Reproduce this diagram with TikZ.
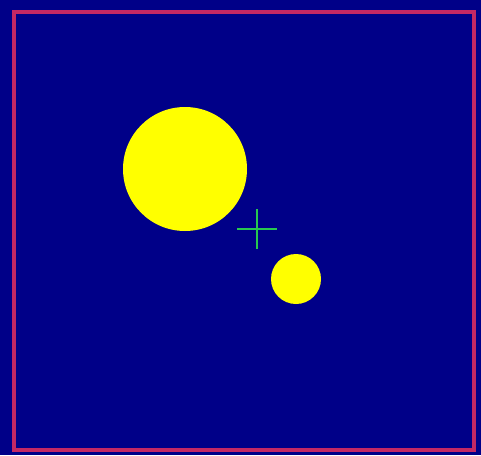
\documentclass[tikz,border=0pt]{standalone}
\definecolor{bg}{RGB}{0,0,136}
\definecolor{frame}{RGB}{196,40,100}
\definecolor{sun}{RGB}{255,255,0}
\definecolor{crossc}{RGB}{40,200,80}
\begin{document}
\begin{tikzpicture}[x=1pt,y=-1pt,
  body/.style={fill=sun,draw=none},
  crossline/.style={draw=crossc,line width=1.8pt}]
\fill[bg] (0,0) rectangle (481,455);
\useasboundingbox (0,0) rectangle (481,455);
\draw[frame,line width=4pt] (13.5,11.5) rectangle (473.5,450);
\fill[body] (185,169) circle (62);
\fill[body] (296,279) circle (25);
\coordinate (c) at (257,229);
\draw[crossline] ([xshift=-20pt]c) -- ([xshift=20pt]c);
\draw[crossline] ([yshift=-20pt]c) -- ([yshift=20pt]c);
\end{tikzpicture}
\end{document}
